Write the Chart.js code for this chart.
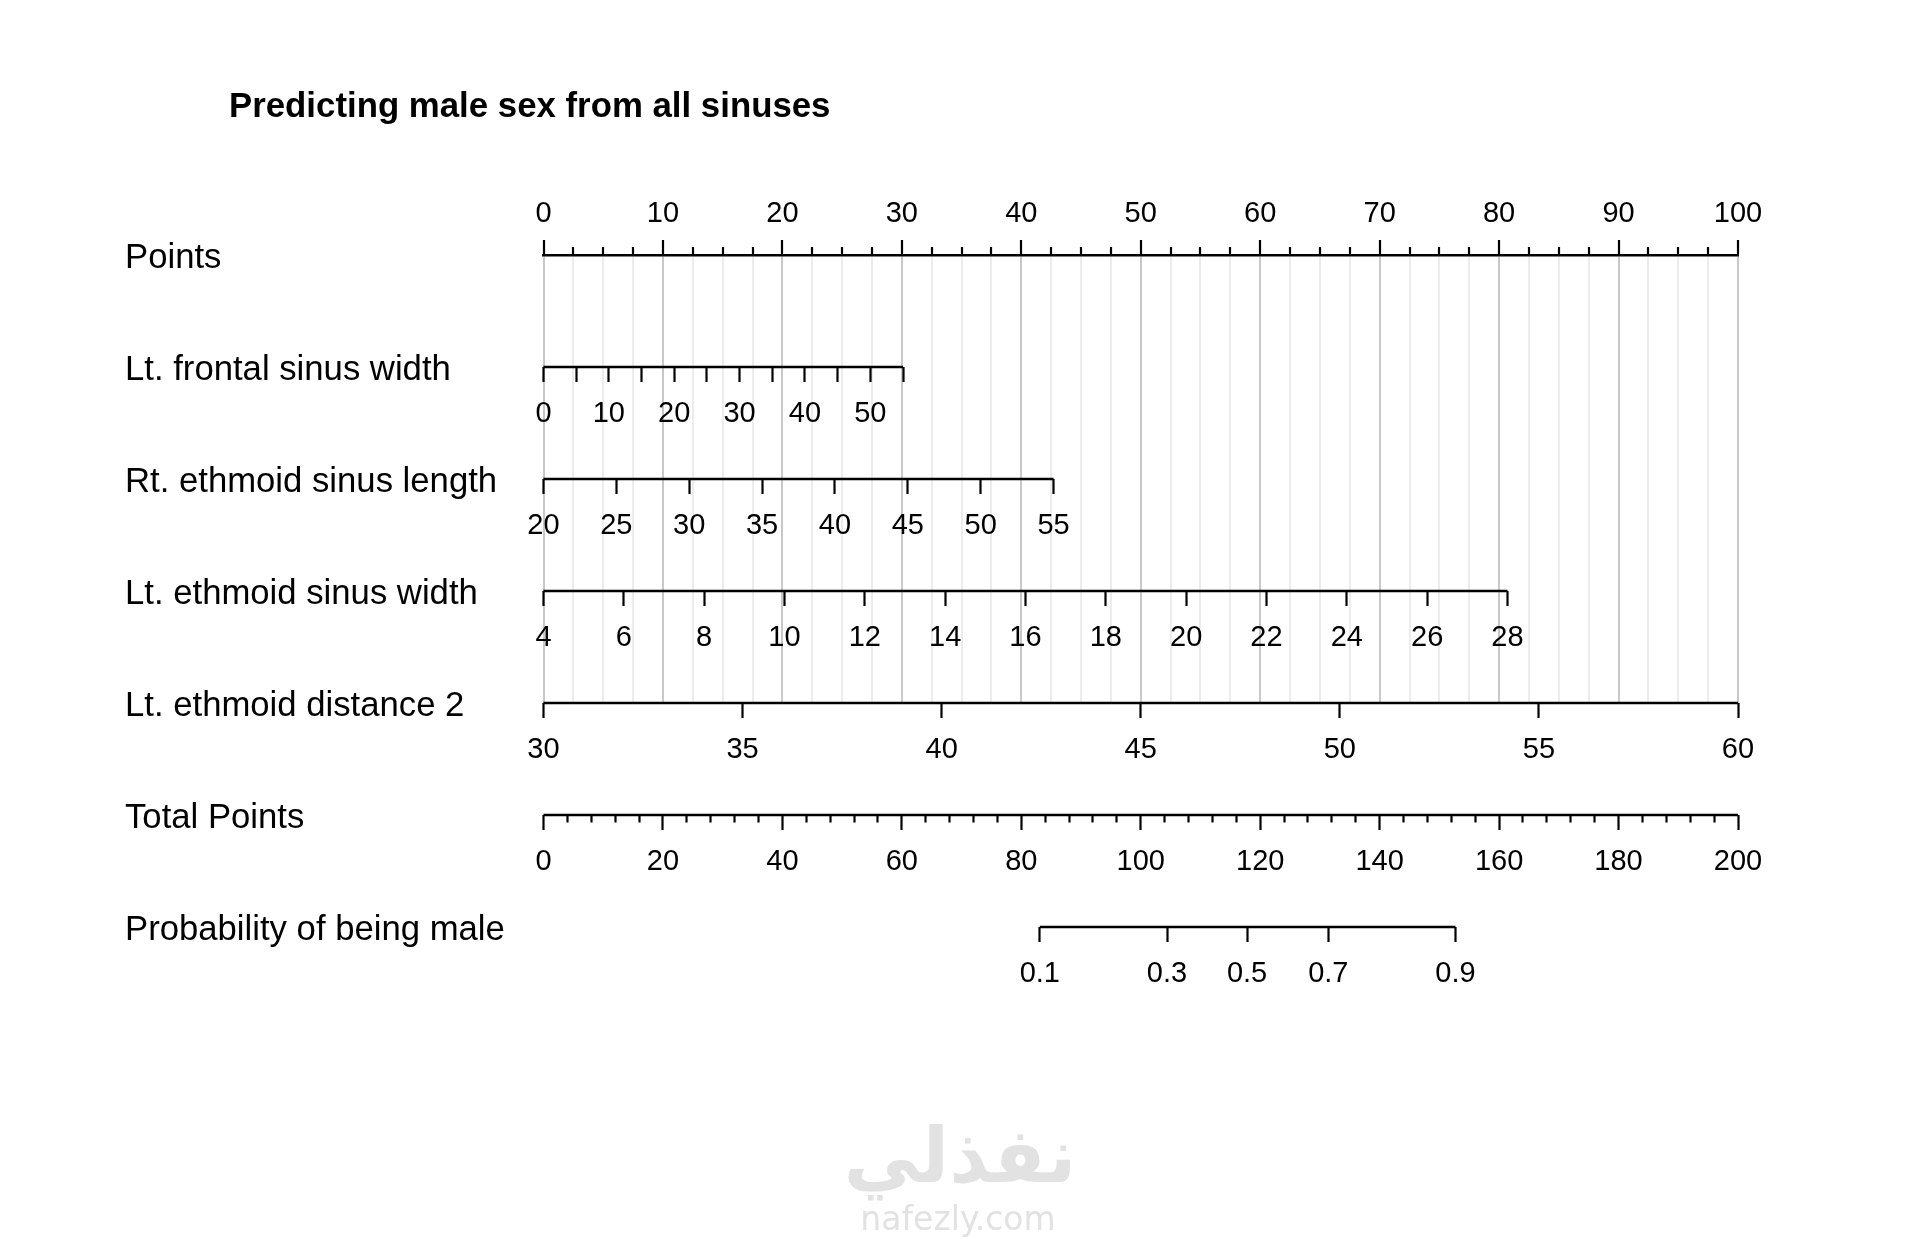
<!DOCTYPE html>
<html>
<head>
<meta charset="utf-8">
<title>Predicting male sex from all sinuses</title>
<script src="https://cdn.jsdelivr.net/npm/chart.js@4.4.1/dist/chart.umd.min.js"></script>
<style>
  html, body { margin: 0; padding: 0; background: #fff; }
  #wrap { width: 1920px; height: 1239px; }
</style>
</head>
<body>
<div id="wrap"><canvas id="nomogram" width="1920" height="1239"></canvas></div>
<script>
// nomogram rows, top to bottom
var chartTitle = 'Predicting male sex from all sinuses';
var rowNames = ['Points', 'Lt. frontal sinus width', 'Rt. ethmoid sinus length',
    'Lt. ethmoid sinus width', 'Lt. ethmoid distance 2', 'Total Points',
    'Probability of being male'];

// variable ranges and the points their top value is worth
var frontalRange = [0, 55];   var frontalPoints = 30.1;
var rtLengthRange = [20, 55]; var rtLengthPoints = 42.7;
var ltWidthRange = [4, 28];   var ltWidthPoints = 80.7;
var ltDistRange = [30, 60];   var ltDistPoints = 100;
var totalRange = [0, 200];

// probability scale, read against total points
var probLabels = [0.1, 0.3, 0.5, 0.7, 0.9];
var probAtTotal = [83.1, 104.4, 117.8, 131.4, 152.7];

var watermark = ['نفذلي', 'nafezly.com'];

Chart.defaults.font.family = "'Liberation Sans', Arial, sans-serif";
Chart.defaults.color = '#000';

var tickFont = { size: 29 };

function varAxis(row, range, maxPoints, step, labelEvery, minorDash) {
    var lo = range[0], hi = range[1];
    return {
        type: 'linear',
        axis: 'x',
        position: { y: row },
        min: lo,
        max: lo + (hi - lo) * 100 / maxPoints,
        afterBuildTicks: function (s) {
            s.ticks = s.ticks.filter(function (t) { return t.value <= hi + 1e-9; });
        },
        ticks: {
            stepSize: step, autoSkip: false, maxRotation: 0, minRotation: 0,
            padding: 15, font: tickFont,
            callback: function (v) { return (v - lo) % labelEvery === 0 ? String(v) : ''; }
        },
        grid: {
            drawOnChartArea: false, tickLength: 15, tickWidth: 2.2, tickColor: '#000',
            tickBorderDash: function (c) {
                if (!minorDash || !c.tick) return [];
                return (c.tick.value - lo) % labelEvery === 0 ? [] : minorDash;
            }
        },
        border: { display: false }
    };
}

function segment(id, row, lo, hi) {
    return {
        xAxisID: id, yAxisID: 'y',
        data: [{ x: lo, y: row }, { x: hi, y: row }],
        showLine: true, borderColor: '#000', borderWidth: 2.4,
        pointRadius: 0, clip: false
    };
}

var textPlugin = {
    id: 'texts',
    afterDraw: function (chart) {
        var ctx = chart.ctx;
        ctx.save();
        ctx.fillStyle = '#000';
        ctx.textBaseline = 'alphabetic';
        ctx.font = "bold 34.8px 'Liberation Sans', Arial, sans-serif";
        ctx.fillText(chartTitle, 229, 117);
        ctx.fillStyle = '#e2e2e2';
        ctx.textAlign = 'center';
        ctx.font = "bold 76px 'DejaVu Sans', sans-serif";
        ctx.fillText(watermark[0], 960, 1182);
        ctx.font = "33px 'DejaVu Sans', sans-serif";
        ctx.fillText(watermark[1], 958, 1230);
        ctx.restore();
    }
};

var nomogram = new Chart(document.getElementById('nomogram'), {
    type: 'scatter',
    data: {
        datasets: [
            segment('xFrontal', 1, frontalRange[0], frontalRange[1]),
            segment('xRtLength', 2, rtLengthRange[0], rtLengthRange[1]),
            segment('xLtWidth', 3, ltWidthRange[0], ltWidthRange[1]),
            segment('xLtDist', 4, ltDistRange[0], ltDistRange[1]),
            segment('xTotal', 5, totalRange[0], totalRange[1]),
            segment('xProb', 6, probAtTotal[0], probAtTotal[probAtTotal.length - 1])
        ]
    },
    options: {
        responsive: false,
        devicePixelRatio: 1,
        animation: false,
        layout: { padding: { left: 125, right: 182, top: 175, bottom: 536 } },
        plugins: { legend: { display: false }, tooltip: { enabled: false } },
        scales: {
            y: {
                type: 'linear', position: 'left', min: 0, max: 4, reverse: true,
                afterBuildTicks: function (s) {
                    s.ticks = rowNames.map(function (n, i) { return { value: i }; });
                },
                afterFit: function (s) { s.width = 418.5; },
                ticks: {
                    autoSkip: false, crossAlign: 'far', padding: 0, labelOffset: 3,
                    font: { size: 34.7 },
                    callback: function (v, i) { return rowNames[i]; }
                },
                grid: { display: false },
                border: { display: false }
            },
            xPoints: {
                type: 'linear', axis: 'x', position: 'top', min: 0, max: 100,
                afterFit: function (s) { s.height = 80; },
                ticks: {
                    stepSize: 2.5, autoSkip: false, maxRotation: 0, minRotation: 0,
                    padding: 8.5, font: tickFont,
                    callback: function (v) { return v % 10 === 0 ? String(v) : ''; }
                },
                grid: {
                    color: function (c) {
                        return c.tick && c.tick.value % 10 === 0 ? '#c8c8c8' : '#ececec';
                    },
                    lineWidth: 2, tickLength: 15, tickWidth: 2.2, tickColor: '#000',
                    tickBorderDash: function (c) {
                        return c.tick && c.tick.value % 10 === 0 ? [] : [0, 7, 8, 0];
                    }
                },
                border: { display: true, color: '#000', width: 2.4 }
            },
            xFrontal: varAxis(1, frontalRange, frontalPoints, 5, 10),
            xRtLength: varAxis(2, rtLengthRange, rtLengthPoints, 5, 5),
            xLtWidth: varAxis(3, ltWidthRange, ltWidthPoints, 2, 2),
            xLtDist: varAxis(4, ltDistRange, ltDistPoints, 5, 5),
            xTotal: varAxis(5, totalRange, 100, 4, 20, [7.5, 30]),
            xProb: {
                type: 'linear', axis: 'x', position: { y: 6 },
                min: totalRange[0], max: totalRange[1],
                afterBuildTicks: function (s) {
                    s.ticks = probAtTotal.map(function (v) { return { value: v }; });
                },
                ticks: {
                    autoSkip: false, maxRotation: 0, minRotation: 0,
                    padding: 15, font: tickFont,
                    callback: function (v, i) { return String(probLabels[i]); }
                },
                grid: { drawOnChartArea: false, tickLength: 15, tickWidth: 2.2, tickColor: '#000' },
                border: { display: false }
            }
        }
    },
    plugins: [textPlugin]
});
</script>
</body>
</html>
